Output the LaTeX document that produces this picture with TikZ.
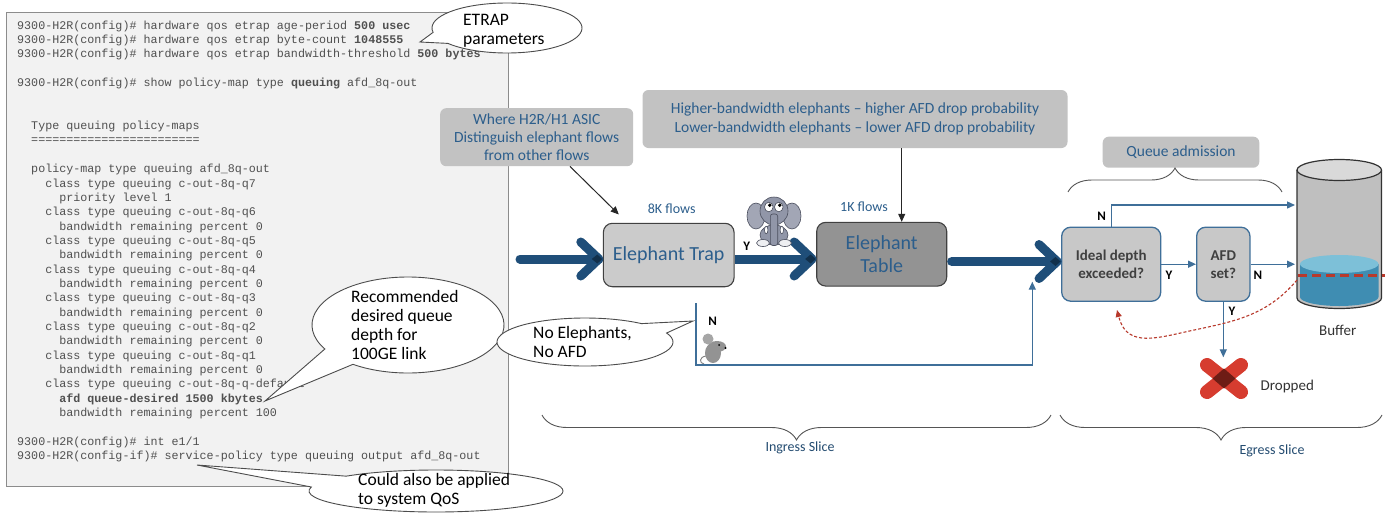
\documentclass[tikz,border=0pt]{standalone}
\usepackage{fontspec}
\setmainfont{Carlito}
\setmonofont{Liberation Mono}
\usetikzlibrary{arrows.meta,calc,decorations.pathreplacing}

\definecolor{navy}{HTML}{1F4E79}
\definecolor{navydark}{HTML}{12304B}
\definecolor{txtblue}{HTML}{2C5E8C}
\definecolor{lineblue}{HTML}{3F6F99}
\definecolor{notegray}{HTML}{C2C2C2}
\definecolor{trapgray}{HTML}{CBCBCB}
\definecolor{tablegray}{HTML}{939393}
\definecolor{qgray}{HTML}{C8C8C8}
\definecolor{codebg}{HTML}{F2F2F2}
\definecolor{codeframe}{HTML}{8C8C8C}
\definecolor{codetxt}{HTML}{505050}
\definecolor{dropred}{HTML}{D63C2F}
\definecolor{dropdark}{HTML}{6E1C15}
\definecolor{curvered}{HTML}{B8392C}
\definecolor{elbody}{HTML}{9196A8}
\definecolor{elline}{HTML}{4B4F5E}
\definecolor{waterdark}{HTML}{3F8DB2}
\definecolor{waterlight}{HTML}{7DC0D8}
\definecolor{bracegray}{HTML}{555555}
\definecolor{cylgray}{HTML}{BFBFBF}
\definecolor{cyltop}{HTML}{D9D9D9}

% one line of the CLI listing: index, indent (characters), text
\newcommand\cliline[3]{\node[codetext] (code#1) at ({17+7.02*#2},{26.2+14.35*#1}) {#3};}
% open chevron head of a thick flow arrow, tip at the given coordinate
\newcommand\chevronat[1]{%
  \draw[navy, line width=9pt, line cap=round, line join=round]
    ($(#1)+(-18,-17)$) -- (#1) -- ($(#1)+(-18,17)$);
  \fill[navydark] ($(#1)+(-7,0)$) -- ($(#1)+(-1.5,-4.5)$) -- ($(#1)+(3.5,0)$) -- ($(#1)+(-1.5,4.5)$) -- cycle;}

\begin{document}
\begin{tikzpicture}[x=1pt,y=-1pt,
  codetext/.style={anchor=west, inner sep=0pt, text=codetxt, font=\fontsize{11.7}{14}\ttfamily},
  note/.style={fill=notegray, rounded corners=6pt, text=txtblue, align=center, inner sep=0pt, font=\fontsize{15.5}{18.4}\selectfont},
  stagebox/.style={draw=black!75, line width=1.1pt, rounded corners=9pt, text=txtblue, align=center, inner sep=0pt, font=\fontsize{20}{22.4}\selectfont},
  testbox/.style={draw=lineblue, line width=1.3pt, fill=qgray, rounded corners=9pt, text=black!75, align=center, inner sep=0pt, font=\bfseries\fontsize{15}{18}\selectfont},
  flow/.style={draw=navy, line width=9pt, line cap=round},
  conn/.style={draw=lineblue, line width=1.3pt, -{Triangle[length=8pt,width=7pt]}},
  ptr/.style={draw=black!85, line width=1pt, -{Triangle[length=8pt,width=7pt]}},
  yn/.style={font=\bfseries\fontsize{13}{15}\selectfont, inner sep=0pt},
  bluelabel/.style={text=txtblue, inner sep=0pt, font=\fontsize{14}{16}\selectfont},
  plainlabel/.style={text=black!80, inner sep=0pt, font=\fontsize{15}{17}\selectfont},
  bubble/.style={draw=black!70, line width=0.9pt, fill=white},
  bubbletext/.style={anchor=west, align=left, inner sep=0pt, font=\fontsize{17.5}{19}\selectfont},
  curly/.style={draw=bracegray, line width=0.9pt, decorate, decoration={brace, amplitude=#1}},
]
\useasboundingbox (0,0) rectangle (1387,512);
\fill[white] (0,0) rectangle (1387,512);

% ---------------- CLI configuration panel ----------------
\node[draw=codeframe, fill=codebg, line width=1pt, minimum width=502, minimum height=474, inner sep=0pt] (codebox) at (257,249) {};
\cliline{0}{0}{9300-H2R(config)\# hardware qos etrap age-period \textbf{500 usec}}
\cliline{1}{0}{9300-H2R(config)\# hardware qos etrap byte-count \textbf{1048555}}
\cliline{2}{0}{9300-H2R(config)\# hardware qos etrap bandwidth-threshold \textbf{500 bytes}}
\cliline{4}{0}{9300-H2R(config)\# show policy-map type \textbf{queuing} afd\_8q-out}
\cliline{7}{2}{Type queuing policy-maps}
\cliline{8}{2}{========================}
\cliline{10}{2}{policy-map type queuing afd\_8q-out}
\cliline{11}{4}{class type queuing c-out-8q-q7}
\cliline{12}{6}{priority level 1}
\cliline{13}{4}{class type queuing c-out-8q-q6}
\cliline{14}{6}{bandwidth remaining percent 0}
\cliline{15}{4}{class type queuing c-out-8q-q5}
\cliline{16}{6}{bandwidth remaining percent 0}
\cliline{17}{4}{class type queuing c-out-8q-q4}
\cliline{18}{6}{bandwidth remaining percent 0}
\cliline{19}{4}{class type queuing c-out-8q-q3}
\cliline{20}{6}{bandwidth remaining percent 0}
\cliline{21}{4}{class type queuing c-out-8q-q2}
\cliline{22}{6}{bandwidth remaining percent 0}
\cliline{23}{4}{class type queuing c-out-8q-q1}
\cliline{24}{6}{bandwidth remaining percent 0}
\cliline{25}{4}{class type queuing c-out-8q-q-default}
\cliline{26}{6}{\textbf{afd queue-desired 1500 kbytes}}
\cliline{27}{6}{bandwidth remaining percent 100}
\cliline{29}{0}{9300-H2R(config)\# int e1/1}
\cliline{30}{0}{9300-H2R(config-if)\# service-policy type queuing output afd\_8q-out}

% ---------------- speech bubbles ----------------
\draw[bubble] ($(507,28)+(170:75 and 25)$) arc[start angle=170, end angle=502, x radius=75, y radius=25] -- (420,42) -- cycle;
\node[bubbletext] (etrap) at (463,31) {ETRAP\\parameters};

\draw[bubble] ($(408,325)+(150:96 and 48)$) arc[start angle=150, end angle=485, x radius=96, y radius=48] -- (265,401) -- cycle;
\node[bubbletext] (recq) at (351,324.5) {Recommended\\desired queue\\depth for\\100GE link};

\draw[bubble] ($(585,342)+(-22:88 and 24)$) arc[start angle=-22, end angle=310, x radius=88, y radius=24] -- (693,321) -- cycle;
\node[bubbletext] (noel) at (533,341.7) {No Elephants,\\No AFD};

\draw[bubble] ($(436,491)+(225:127 and 21)$) arc[start angle=225, end angle=551, x radius=127, y radius=21] -- (197,465) -- cycle;
\node[bubbletext] (sysqos) at (358,490.3) {Could also be applied\\to system QoS};

% ---------------- ingress slice ----------------
\node[note, minimum width=193, minimum height=58] (where) at (536.7,137.2)
  {Where H2R/H1 ASIC\\Distinguish elephant flows\\from other flows};
\node[note, minimum width=425, minimum height=58] (hbw) at (855,119)
  {Higher-bandwidth elephants -- higher AFD drop probability\\Lower-bandwidth elephants -- lower AFD drop probability};

\node[stagebox, fill=trapgray, minimum width=130.7, minimum height=63.4] (trap) at (668.7,255) {Elephant Trap};
\node[stagebox, fill=tablegray, minimum width=130, minimum height=63.7] (table) at (881.7,254.2) {Elephant\\Table};

\node[bluelabel] (k8) at (671.7,208.3) {8K flows};
\node[bluelabel] (k1) at (864,206.7) {1K flows};

% thick flow arrows with chevron heads
\coordinate (src) at (520,259);
\coordinate (tipA) at ($(src -| trap.west)+(-4,0)$);
\draw[flow] (src) -- (tipA);
\chevronat{tipA}
\coordinate (tipB) at ($(table.west |- src)+(-4,0)$);
\draw[flow, line cap=butt] (trap.east |- src) -- (tipB);
\chevronat{tipB}

\node[yn] (ytrap) at (746.7,246.7) {Y};

\draw[ptr] ($(where.south)+(33.3,0)$) -- ($(trap.north west)+(16,-8.3)$);
\coordinate (tabtop) at ($(table.north)+(20,0)$);
\draw[ptr] (hbw.south -| tabtop) -- (tabtop);

% elephant
\begin{scope}[draw=elline, line width=0.6pt]
  \filldraw[fill=elbody!85] (756,216) ellipse [x radius=9, y radius=13];
  \filldraw[fill=elbody!85] (792,216) ellipse [x radius=9, y radius=13];
  \filldraw[fill=elbody] (774,235) ellipse [x radius=14, y radius=10];
  \filldraw[fill=white!85!elbody] (763,243) ellipse [x radius=6.5, y radius=3.5];
  \filldraw[fill=white!85!elbody] (785,243) ellipse [x radius=6.5, y radius=3.5];
  \filldraw[fill=elbody] (774,211) ellipse [x radius=14, y radius=14];
  \filldraw[fill=white] (768.8,207) ellipse [x radius=4.3, y radius=4.8];
  \filldraw[fill=white] (778.8,207) ellipse [x radius=4.3, y radius=4.8];
  \fill[black] (769.8,205.2) circle [radius=1.9];
  \fill[black] (779.8,205.2) circle [radius=1.9];
  \filldraw[fill=elbody, rounded corners=2.5pt] (770.3,214) rectangle (777.7,245.5);
  \filldraw[fill=white] (766.2,230) ellipse [x radius=1.7, y radius=3.8];
  \filldraw[fill=white] (781.8,230) ellipse [x radius=1.7, y radius=3.8];
\end{scope}

% mouse
\begin{scope}
  \draw[gray, line width=0.9pt] (706,356) .. controls (699,357) and (699,363) .. (704,364);
  \fill[gray!85] (713,353) ellipse [x radius=8, y radius=10];
  \fill[gray!85] (717,346.5) ellipse [x radius=9, y radius=5.5];
  \fill[gray!70] (708,339) circle [radius=5.5];
  \fill[black] (719,345) circle [radius=1];
  \fill[black] (725.5,348) circle [radius=1.2];
\end{scope}

% small-flow bypass path
\coordinate (nstart) at (696,303);
\coordinate (ncorner) at (1032.3,365);
\coordinate (merge) at (1032.3,281.7);
\node[yn] (nmouse) at (712.7,321.7) {N};

% ---------------- egress slice ----------------
\node[note, minimum width=156.6, minimum height=31] (qadm) at (1181,152.2) {Queue admission};
\node[testbox, minimum width=99, minimum height=74] (ideal) at (1111.2,264.2) {Ideal depth\\exceeded?};
\node[testbox, minimum width=53.3, minimum height=74] (afd) at (1223.3,264.2) {AFD\\set?};

\coordinate (out) at (951.7,261.5);
\coordinate (tipC) at ($(out -| ideal.west)+(-4,0)$);
\draw[flow] (out) -- (tipC);
\chevronat{tipC}
\draw[conn] (nstart) |- (ncorner) -- (merge);

% buffer cylinder
\node[minimum width=84.5, minimum height=150, inner sep=0pt] (buffer) at (1339.25,234) {};
\fill[cylgray] (1297,170) -- (1297,298) arc[start angle=180, end angle=0, x radius=42.25, y radius=10.5] -- (1381.5,170) -- cycle;
\fill[waterdark] (1300,264) -- (1300,297) arc[start angle=180, end angle=0, x radius=39.25, y radius=9] -- (1378.5,264) -- cycle;
\fill[waterlight] (1339.25,264) ellipse [x radius=39.25, y radius=9];
\draw[black!80, line width=1.2pt] (1297,170) -- (1297,298) arc[start angle=180, end angle=0, x radius=42.25, y radius=10.5] -- (1381.5,170);
\draw[black!80, line width=1.2pt, fill=cyltop] (1339.25,170) ellipse [x radius=42.25, y radius=10.5];
\draw[curvered, line width=3pt, dash pattern=on 9pt off 5pt] (1298,275) -- (1385,275);
\node[plainlabel] (buflbl) at (1337.7,330) {Buffer};

\coordinate (bufin1) at (1295,205);
\coordinate (bufin2) at (1295,264.2);
\node[yn] (nideal) at (1101.7,216.7) {N};
\draw[conn] (ideal.north) |- (bufin1);
\node[yn] (yideal) at (1169,275) {Y};
\draw[conn] (ideal.east) -- (afd.west);
\node[yn] (nafd) at (1258,275) {N};
\draw[conn] (afd.east) -- (bufin2);
\node[yn] (yafd) at (1232,311.7) {Y};

% dropped marker
\node[minimum width=48, minimum height=42, inner sep=0pt] (drop) at (1224,378.5) {};
\draw[conn] (afd.south) -- (afd.south |- drop.north);
\draw[dropred, line width=14pt, line cap=round] (1207,365) -- (1241,392);
\draw[dropred, line width=14pt, line cap=round] (1241,365) -- (1207,392);
\fill[dropdark] (1212.5,378.5) -- (1224,368.5) -- (1235.5,378.5) -- (1224,388.5) -- cycle;
\node[plainlabel, anchor=west] (droplbl) at (1260.5,386.7) {Dropped};

% feedback from buffer level to the depth check
\coordinate (level) at (1297,280);
\coordinate (fb) at (1117,310);
\draw[curvered, line width=1.1pt, dash pattern=on 3pt off 2pt, -{Triangle[length=7pt,width=6pt]}]
  (level) .. controls (1265,318) and (1230,322) .. (1185,332) .. controls (1150,340) and (1126,345) .. (fb);

% ---------------- braces ----------------
\draw[curly=24] (1068,192) -- (1282,192);
\draw[curly=25] (1051,415) -- (542,415);
\draw[curly=25] (1382,415) -- (1060,415);
\node[bluelabel, text=txtblue!80!black] (ingress) at (800,448) {Ingress Slice};
\node[bluelabel, text=txtblue!80!black] (egress) at (1272,451) {Egress Slice};
\end{tikzpicture}
\end{document}
